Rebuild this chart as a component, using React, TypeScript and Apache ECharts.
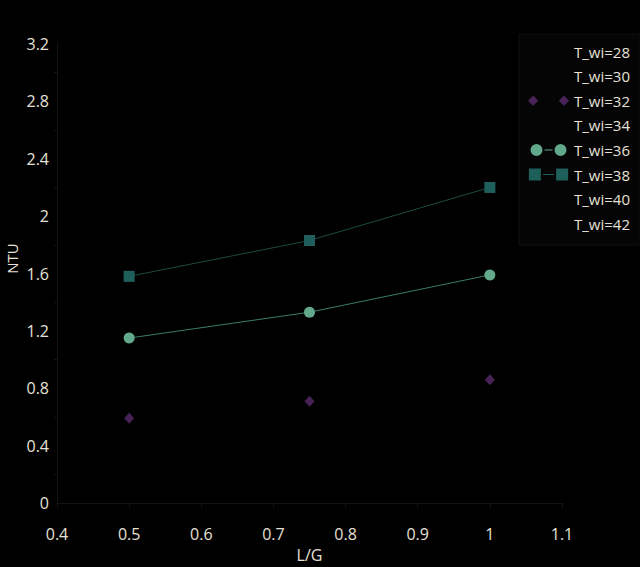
import React, { useEffect, useRef } from "react";
import * as echarts from "echarts";

const seriesNames = ["T_wi=28", "T_wi=30", "T_wi=32", "T_wi=34", "T_wi=36", "T_wi=38", "T_wi=40", "T_wi=42"];
const lgValues = [0.5, 0.75, 1];
const ntu32 = [0.59, 0.71, 0.86];
const ntu36 = [1.15, 1.33, 1.59];
const ntu38 = [1.58, 1.83, 2.2];

const TEXT = "#e6e1d6";
const AXIS = "#141414";

const diamondIcon = "path://M4.5 0 L9 4.5 L4.5 9 L0 4.5 Z M31.5 0 L36 4.5 L31.5 9 L27 4.5 Z";
const circleIcon =
  "path://M0 6 A6 6 0 1 0 12 6 A6 6 0 1 0 0 6 Z M24 6 A6 6 0 1 0 36 6 A6 6 0 1 0 24 6 Z M14 5.5 L22 5.5 L22 6.5 L14 6.5 Z";
const squareIcon = "path://M0 0 L11 0 L11 11 L0 11 Z M25 0 L36 0 L36 11 L25 11 Z M13 5 L23 5 L23 6 L13 6 Z";

function pairs(ys: number[]) {
  return lgValues.map((x, i) => [x, ys[i]]);
}

export default function App() {
  const ref = useRef<HTMLDivElement>(null);
  useEffect(() => {
    document.body.style.margin = "0";
    document.body.style.background = "#000";
    const chart = echarts.init(ref.current!, null, { renderer: "svg" });
    const emptySeries = (name: string) => ({
      name,
      type: "line",
      data: [],
      itemStyle: { color: "rgba(0,0,0,0)" },
      lineStyle: { color: "rgba(0,0,0,0)" },
    });
    chart.setOption({
      animation: false,
      backgroundColor: "#000",
      textStyle: { fontFamily: "Open Sans", color: TEXT },
      grid: { left: 57, right: 78, top: 44, bottom: 64, containLabel: false, outerBoundsMode: "none" },
      legend: {
        orient: "vertical",
        left: 519,
        top: 34,
        padding: [10, 10, 14, 9],
        itemWidth: 41,
        itemHeight: 12,
        itemGap: 9.6,
        backgroundColor: "#050505",
        borderColor: "#101010",
        borderWidth: 1,
        textStyle: { color: TEXT, fontSize: 15, fontFamily: "Open Sans" },
        data: seriesNames.map((n) => {
          if (n === "T_wi=32") return { name: n, icon: diamondIcon };
          if (n === "T_wi=36") return { name: n, icon: circleIcon };
          if (n === "T_wi=38") return { name: n, icon: squareIcon };
          return { name: n, icon: "rect" };
        }),
      },
      xAxis: {
        type: "value",
        min: 0.4,
        max: 1.1,
        interval: 0.1,
        name: "L/G",
        nameLocation: "middle",
        nameGap: 44,
        nameMoveOverlap: false,
        nameTextStyle: { color: TEXT, fontSize: 16, fontFamily: "Open Sans" },
        axisLine: { show: true, lineStyle: { color: AXIS } },
        axisTick: { show: true, lineStyle: { color: AXIS } },
        splitLine: { show: false },
        axisLabel: { color: TEXT, fontSize: 16, margin: 23, fontFamily: "Open Sans" },
      },
      yAxis: {
        type: "value",
        min: 0,
        max: 3.2,
        interval: 0.4,
        name: "NTU",
        nameLocation: "middle",
        nameGap: 38,
        nameMoveOverlap: false,
        nameTextStyle: { color: TEXT, fontSize: 15, fontFamily: "Open Sans", padding: [0, 0, 0, 30] },
        axisLine: { show: true, lineStyle: { color: AXIS } },
        axisTick: { show: false },
        minorTick: { show: true, splitNumber: 2, lineStyle: { color: AXIS } },
        splitLine: { show: false },
        axisLabel: { color: TEXT, fontSize: 16, margin: 8, fontFamily: "Open Sans" },
      },
      series: [
        emptySeries("T_wi=28"),
        emptySeries("T_wi=30"),
        {
          name: "T_wi=32",
          type: "scatter",
          symbol: "diamond",
          symbolSize: [10, 11],
          itemStyle: { color: "#5a2b6b" },
          data: pairs(ntu32),
        },
        emptySeries("T_wi=34"),
        {
          name: "T_wi=36",
          type: "line",
          symbol: "circle",
          symbolSize: 11,
          itemStyle: { color: "#62a88b" },
          lineStyle: { color: "#3b7e63", width: 1 },
          data: pairs(ntu36),
        },
        {
          name: "T_wi=38",
          type: "line",
          symbol: "rect",
          symbolSize: 11,
          itemStyle: { color: "#1f5f5b" },
          lineStyle: { color: "#1c4a3f", width: 1 },
          data: pairs(ntu38),
        },
        emptySeries("T_wi=40"),
        emptySeries("T_wi=42"),
      ],
    });
    return () => chart.dispose();
  }, []);
  return (
    <div
      ref={ref}
      style={{ position: "absolute", left: 0, top: 0, width: 640, height: 567, background: "#000" }}
    />
  );
}
